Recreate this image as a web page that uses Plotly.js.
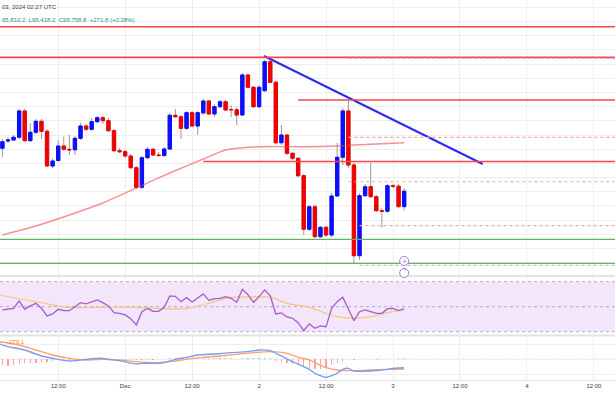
<!DOCTYPE html>
<html><head><meta charset="utf-8">
<script src="https://cdn.plot.ly/plotly-3.0.1.min.js"></script>
<style>html,body{margin:0;padding:0;background:#fff}#chart{width:615px;height:410px}</style>
</head><body><div id="chart"></div>
<script>
// hourly candles, first one 2024-11-30 02:00 UTC, last one 2024-12-03 02:00 UTC
const firstCandle = '2024-11-30T02:00:00Z';
const open = [96516,96644,96662,96710,97174,96650,96798,96992,96816,96203,96300,96556,96498,96489,96692,96909,96851,96985,97055,97003,96826,96473,96456,96380,96173,95828,96350,96498,96397,96389,96503,97098,97073,96868,97144,96909,97140,97350,97121,97249,97338,97200,97195,97103,97809,97592,97249,97532,98043,97680,96614,96750,96427,96339,96032,95087,95485,94956,95122,94986,95674,96357,97174,96221,94621,95680,95838,95662,95415,95406,95856,95847,95487.0];
const high = [96680,96715,96750,97214,97214,96962,97032,97032,96856,96345,96662,96720,96750,96733,96962,96944,97050,97085,97085,97050,96856,96521,96486,96415,96203,96380,96539,96521,96450,96539,97138,97209,97103,97174,97174,97174,97385,97368,97297,97368,97368,97279,97244,97844,97826,97615,97632,98073,98109,97703,96927,96768,96450,96362,96062,95515,95515,95145,95145,95727,96609,97221,97368,96256,95727,95886,96256,95692,95463,95886,95886,95886,95810.2];
const low = [96362,96609,96644,96680,96627,96627,96768,96680,96186,96168,96285,96468,96397,96397,96662,96821,96821,96962,96944,96803,96450,96433,96345,96150,95798,95798,96327,96380,96362,96362,96486,97050,96680,96838,96891,96750,97103,97103,97068,97227,97174,97068,96927,97085,97579,97227,97227,97509,97668,96591,96574,96397,96309,96009,94986,95057,94933,94933,94951,94951,95657,96221,96168,94492,94545,95657,95639,95392,95110,95374,95815,95463,95418.2];
const close = [96632,96662,96710,97174,96650,96798,96992,96816,96203,96292,96556,96498,96489,96692,96909,96851,96985,97055,97003,96826,96473,96456,96380,96173,95828,96350,96498,96397,96389,96503,97098,97073,96868,97144,96909,97144,97350,97121,97249,97338,97191,97195,97103,97809,97592,97249,97592,98043,97680,96614,96750,96427,96339,96032,95087,95485,94956,95122,94986,95674,96357,97174,96221,94621,95680,95838,95662,95415,95406,95856,95847,95487,95758.8];

// moving average on price
const maTimes = ['2024-11-30 02:00','2024-11-30 08:00','2024-11-30 14:00','2024-11-30 20:00','2024-12-01 02:00','2024-12-01 08:00','2024-12-01 14:00','2024-12-01 18:00','2024-12-01 23:00','2024-12-02 02:00','2024-12-02 08:00','2024-12-02 14:00','2024-12-02 17:00','2024-12-03 02:00'];
const maValues = [94986,95145,95339,95551,95815,96080,96327,96486,96539,96547,96544,96556,96574,96614];

// RSI per candle
const rsi = [47.4,47.9,48.7,54.6,47.9,50.6,52.7,48.7,42.6,44.2,47.9,46.8,46.8,50.0,53.2,52.2,54.0,55.4,53.2,50.6,45.2,44.7,43.4,40.4,35.4,46.0,48.7,46.3,46.3,49.5,58.6,58.3,54.0,57.2,53.8,57.0,60.2,55.1,56.4,56.7,58.0,56.7,53.5,63.9,59.6,53.5,58.0,63.4,58.6,44.2,45.0,41.8,40.7,37.2,30.8,36.2,32.7,34.6,34.0,48.7,54.0,57.5,47.9,38.8,46.0,47.4,46.0,44.7,44.7,48.4,48.7,46.8,48.2];
const rsiMaTimes = ['2024-11-30 01:30','2024-11-30 08:00','2024-11-30 14:00','2024-11-30 20:00','2024-12-01 02:00','2024-12-01 08:00','2024-12-01 11:00','2024-12-01 15:00','2024-12-01 18:00','2024-12-01 23:00','2024-12-02 02:00','2024-12-02 05:00','2024-12-02 09:00','2024-12-02 12:00','2024-12-02 14:00','2024-12-02 17:00','2024-12-02 20:00','2024-12-02 23:00','2024-12-03 02:00'];
const rsiMa = [59.4,54.0,49.5,49.5,49.5,48.2,48.7,52.7,56.7,58.0,57.5,52.7,49.5,44.7,42.0,40.7,42.0,45.2,47.9];

// MACD
const macdTimes = ['2024-11-30 01:30','2024-11-30 03:00','2024-11-30 06:00','2024-11-30 09:00','2024-11-30 12:00','2024-11-30 14:00','2024-11-30 15:00','2024-11-30 17:00','2024-11-30 20:00','2024-11-30 21:00','2024-11-30 23:00','2024-12-01 02:00','2024-12-01 03:00','2024-12-01 06:00','2024-12-01 07:00','2024-12-01 09:00','2024-12-01 11:00','2024-12-01 13:00','2024-12-01 16:00','2024-12-01 19:00','2024-12-01 22:00','2024-12-02 00:00','2024-12-02 02:00','2024-12-02 04:00','2024-12-02 06:00','2024-12-02 08:00','2024-12-02 09:00','2024-12-02 10:00','2024-12-02 12:00','2024-12-02 14:00','2024-12-02 15:00','2024-12-02 16:00','2024-12-02 17:00','2024-12-02 20:00','2024-12-02 23:00','2024-12-03 00:00','2024-12-03 02:00'];
const macdLine = [505,417,307,109,-1,-56,-45,-1,32,-1,-45,-155,-133,-133,-111,-1,65,142,175,219,252,307,285,109,-78,-243,-331,-463,-595,-463,-331,-298,-386,-386,-331,-298,-279];
const signalTimes = ['2024-11-30 01:30','2024-11-30 05:00','2024-11-30 08:00','2024-11-30 11:00','2024-11-30 14:00','2024-11-30 17:00','2024-11-30 20:00','2024-11-30 23:00','2024-12-01 02:00','2024-12-01 05:00','2024-12-01 08:00','2024-12-01 11:00','2024-12-01 14:00','2024-12-01 17:00','2024-12-01 20:00','2024-12-01 23:00','2024-12-02 02:00','2024-12-02 05:00','2024-12-02 07:00','2024-12-02 09:00','2024-12-02 10:00','2024-12-02 12:00','2024-12-02 14:00','2024-12-02 17:00','2024-12-02 20:00','2024-12-02 23:00','2024-12-03 02:00'];
const signalLine = [582,472,307,142,32,-23,-1,-23,-78,-111,-78,-1,65,109,164,219,252,197,65,-23,-110,-276,-353,-375,-353,-331,-320];
const histogram = [-188,-221,-188,-166,-133,-133,-111,-78,-78,-45,-23,
  -15,-10,-5,5,10,10,8,5,-5,-10,-15,-20,-25,-30,-25,-15,-10,-5,10,
  40,55,50,60,50,45,35,30,30,35,35,30,25,40,35,30,35,45,30,
  -40,-80,-120,-150,-190,-230,-280,-330,-320,-280,-200,-120,-40,
  20,-10,15,20,15,-10,10,20,25,30,40];
const macdLabel = '-279.1';

// drawn levels
const levelPrices = [98660, 98120, 97368, 96283, 94910, 94487, 98103, 96710, 95926, 95150, 94452];
const levelStarts = ['', '', '2024-12-02 07:00', '2024-12-01 14:00', '', '', '2024-12-02 16:00', '2024-12-02 16:00', '2024-12-02 16:00', '2024-12-02 18:00', '2024-12-02 18:00'];
const levelKinds = ['red','red','red','red','green','green','purpledash','pinkdash','pinkdash','pinkdash','graydash'];
const trendTimes = ['2024-12-02 00:54', '2024-12-03 16:04'];
const trendPrices = [98144, 96239];

const tickVals = ['2024-11-30 12:00','2024-12-01 00:00','2024-12-01 12:00','2024-12-02 00:00','2024-12-02 12:00','2024-12-03 00:00','2024-12-03 12:00','2024-12-04 00:00','2024-12-04 12:00'];
const tickText = ['12:00','Dec','12:00','2','12:00','3','12:00','4','12:00'];

const headerDate = '03, 2024 02:27 UTC';
const headerOHLC = '95,810.2  L95,418.2  C95,758.8  +271.8 (+0.28%)';

const xStart = '2024-11-30 01:34:12';
const xEnd = '2024-12-04 15:47:00';

// ---- build ----
const t0 = Date.parse(firstCandle);
const times = open.map((_, i) => new Date(t0 + i * 3600000).toISOString().slice(0, 16).replace('T', ' '));
const bodyHigh = open.map((o, i) => Math.max(o, close[i]));
const bodyLow = open.map((o, i) => Math.min(o, close[i]));

const BLUE = '#0d0dff', RED = '#f20000', WICK = '#9a9a9a';

const traces = [
  {type: 'candlestick', x: times, open, high, low, close, xaxis: 'x', yaxis: 'y',
   increasing: {line: {color: WICK, width: 1}, fillcolor: WICK},
   decreasing: {line: {color: WICK, width: 1}, fillcolor: WICK},
   whiskerwidth: 0, hoverinfo: 'skip', showlegend: false},
  {type: 'candlestick', x: times, open, high: bodyHigh, low: bodyLow, close, xaxis: 'x', yaxis: 'y',
   increasing: {line: {color: BLUE, width: 1}, fillcolor: BLUE},
   decreasing: {line: {color: RED, width: 1}, fillcolor: RED},
   whiskerwidth: 0, hoverinfo: 'skip', showlegend: false},
  {type: 'scatter', mode: 'lines', x: maTimes, y: maValues, xaxis: 'x', yaxis: 'y',
   line: {color: 'rgba(242,70,80,0.6)', width: 1.4, shape: 'spline', smoothing: 0.6}, hoverinfo: 'skip', showlegend: false},
  {type: 'scatter', mode: 'lines', x: trendTimes, y: trendPrices, xaxis: 'x', yaxis: 'y',
   line: {color: '#2b2bf0', width: 2}, hoverinfo: 'skip', showlegend: false},
  {type: 'scatter', mode: 'lines', x: rsiMaTimes, y: rsiMa, xaxis: 'x', yaxis: 'y2',
   line: {color: '#f6c978', width: 1.2, shape: 'spline', smoothing: 1}, hoverinfo: 'skip', showlegend: false},
  {type: 'scatter', mode: 'lines', x: times, y: rsi, xaxis: 'x', yaxis: 'y2',
   line: {color: '#a65ccc', width: 1.3}, hoverinfo: 'skip', showlegend: false},
  {type: 'bar', x: times, y: histogram, xaxis: 'x', yaxis: 'y3', width: 800000,
   marker: {color: histogram.map(v => v >= 0 ? '#7fcdb9' : '#f5a3a3')}, hoverinfo: 'skip', showlegend: false},
  {type: 'scatter', mode: 'lines', x: signalTimes, y: signalLine, xaxis: 'x', yaxis: 'y3',
   line: {color: '#f8a46a', width: 1.4, shape: 'spline', smoothing: 0.7}, hoverinfo: 'skip', showlegend: false},
  {type: 'scatter', mode: 'lines', x: macdTimes, y: macdLine, xaxis: 'x', yaxis: 'y3',
   line: {color: '#7a9cf7', width: 1.4, shape: 'spline', smoothing: 0.5}, hoverinfo: 'skip', showlegend: false}
];

const kindStyle = {
  red: {color: '#f04848', width: 1.6, dash: 'solid'},
  green: {color: '#5cb85c', width: 1.2, dash: 'solid'},
  purpledash: {color: '#c9a6e6', width: 1.2, dash: '3px,3px'},
  pinkdash: {color: '#f4a5a5', width: 1.2, dash: '3px,3px'},
  graydash: {color: '#c9b8e0', width: 1.2, dash: '3px,3px'}
};

const shapes = [];
// RSI band
shapes.push({type: 'rect', xref: 'paper', yref: 'y2', x0: 0, x1: 1, y0: 30, y1: 70, fillcolor: '#f3e5fb', line: {width: 0}, layer: 'below'});
[70, 50, 30].forEach(v => shapes.push({type: 'line', xref: 'paper', yref: 'y2', x0: 0, x1: 1, y0: v, y1: v, line: {color: '#b7a9c4', width: 1, dash: '3px,3px'}, layer: 'below'}));
// MACD zero line
shapes.push({type: 'line', xref: 'paper', yref: 'y3', x0: 0, x1: 1, y0: 0, y1: 0, line: {color: '#c8c8c8', width: 1, dash: '3px,3px'}, layer: 'below'});
// pane separators
[0.2737, 0.1171].forEach(v => shapes.push({type: 'line', xref: 'paper', yref: 'paper', x0: 0, x1: 1, y0: v, y1: v, line: {color: '#e4e4e4', width: 2}}));
// levels
levelPrices.forEach((p, i) => {
  const s = kindStyle[levelKinds[i]];
  shapes.push({type: 'line', xref: 'x', yref: 'y', x0: levelStarts[i] || xStart, x1: xEnd, y0: p, y1: p,
    line: {color: s.color, width: s.width, dash: s.dash}});
});
// event icons
const lastTime = times[times.length - 1];
shapes.push({type: 'circle', xref: 'x', yref: 'y', xsizemode: 'pixel', ysizemode: 'pixel', xanchor: lastTime, yanchor: 94528,
  x0: -4.5, x1: 4.5, y0: -4.5, y1: 4.5, line: {color: '#a77be0', width: 1}, fillcolor: '#ffffff'});
shapes.push({type: 'circle', xref: 'x', yref: 'paper', xsizemode: 'pixel', ysizemode: 'pixel', xanchor: lastTime, yanchor: 0.2816,
  x0: -4.5, x1: 4.5, y0: -4.5, y1: 4.5, line: {color: '#a77be0', width: 1}, fillcolor: '#ffffff'});

const annotations = [
  {xref: 'paper', yref: 'paper', x: 0, y: 0.9816, xanchor: 'left', yanchor: 'middle', showarrow: false,
   text: headerDate, font: {family: 'Liberation Sans', size: 6, color: '#3d3d3d'}},
  {xref: 'paper', yref: 'paper', x: 0, y: 0.947, xanchor: 'left', yanchor: 'middle', showarrow: false,
   text: headerOHLC, font: {family: 'Liberation Sans', size: 6, color: '#1a9a6c'}},
  {xref: 'paper', yref: 'paper', x: 0.008, y: 0.1008, xanchor: 'left', yanchor: 'middle', showarrow: false,
   text: macdLabel, font: {family: 'Liberation Sans', size: 6, color: '#f57c2a'}},
  {xref: 'x', yref: 'y', x: lastTime, y: 94528, showarrow: false, text: '+', borderpad: 0,
   font: {family: 'DejaVu Sans', size: 6, color: '#9a6ad8'}},
  {xref: 'x', yref: 'paper', x: lastTime, y: 0.2816, showarrow: false, text: 'ϟ', borderpad: 0,
   font: {family: 'DejaVu Sans', size: 5, color: '#9a6ad8'}}
];

const gridColor = '#eeeeee';
const layout = {
  width: 615, height: 410,
  margin: {l: 0, r: 0, t: 0, b: 30},
  paper_bgcolor: '#ffffff', plot_bgcolor: '#ffffff',
  showlegend: false, boxgap: 0.15, bargap: 0,
  xaxis: {type: 'date', range: [xStart, xEnd], anchor: 'y3', tickvals: tickVals, ticktext: tickText,
    tickfont: {family: 'Liberation Sans', size: 6, color: '#3b3b3b'}, showgrid: true, gridcolor: gridColor,
    ticks: '', showline: true, linecolor: '#e2e2e2', zeroline: false, rangeslider: {visible: false}, fixedrange: true},
  yaxis: {domain: [0.2763, 1], range: [94280.6, 99131.6], tick0: 0, dtick: 250, showticklabels: false,
    showgrid: true, gridcolor: gridColor, zeroline: false, fixedrange: true},
  yaxis2: {domain: [0.1211, 0.2711], range: [28.16, 73.76], tick0: 0, dtick: 20, showticklabels: false,
    showgrid: true, gridcolor: gridColor, zeroline: false, fixedrange: true},
  yaxis3: {domain: [0, 0.1132], range: [-683, 736], tick0: 0, dtick: 500, showticklabels: false,
    showgrid: true, gridcolor: gridColor, zeroline: false, fixedrange: true},
  shapes, annotations
};

Plotly.newPlot('chart', traces, layout, {displayModeBar: false, staticPlot: true});
</script>
</body></html>
